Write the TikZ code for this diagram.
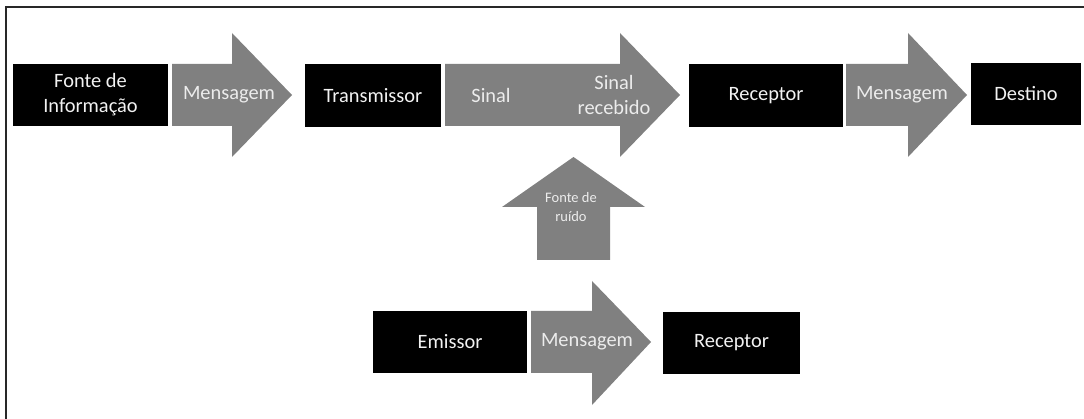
\documentclass[tikz,border=0pt]{standalone}
\usepackage{fontspec}
\setmainfont{Carlito}
\definecolor{arrowgray}{RGB}{128,128,128}
\definecolor{boxtext}{RGB}{242,242,242}
\definecolor{arrowtext}{RGB}{236,236,236}
\definecolor{framegray}{RGB}{40,40,40}
\tikzset{
  blackbox/.style={fill=black, text=boxtext, align=center, inner sep=0pt,
    font=\fontsize{20.4}{25}\selectfont},
  arrowbody/.style={fill=arrowgray},
  arrowlabel/.style={text=arrowtext, align=center, inner sep=0pt,
    font=\fontsize{20.4}{25}\selectfont},
  smalllabel/.style={text=arrowtext, align=center, inner sep=0pt,
    font=\fontsize{14.5}{19}\selectfont},
}
\begin{document}
\begin{tikzpicture}[x=1pt,y=-1pt]
\useasboundingbox (0,0) rectangle (1084,419);
% outer frame (left and top edges)
\draw[line width=1.3pt, framegray] (6,419) -- (6,7) -- (1084,7);

% --- upper chain: source to destination ---
\node[blackbox, minimum width=155pt, minimum height=62pt] (fonte) at (90.5,95) {Fonte de\\Informação};
\fill[arrowbody] (172,64) -- (232,64) -- (232,33) -- (292,95) -- (232,157) -- (232,126) -- (172,126) -- cycle;
\node[arrowlabel] (msg1) at (229,95) {Mensagem};

\node[blackbox, minimum width=136pt, minimum height=63pt] (trans) at (373,95.5) {Transmissor};
\fill[arrowbody] (445,64) -- (620,64) -- (620,33) -- (680,95) -- (620,157) -- (620,126) -- (445,126) -- cycle;
\node[arrowlabel] (sinal) at (491,95) {Sinal};
\node[arrowlabel] (sinalrec) at (614,95) {Sinal\\recebido};

\node[blackbox, minimum width=154pt, minimum height=63pt] (recep) at (766,95.5) {Receptor};
\fill[arrowbody] (846,64) -- (908,64) -- (908,33) -- (967,95) -- (908,157) -- (908,126) -- (846,126) -- cycle;
\node[arrowlabel] (msg2) at (902,95) {Mensagem};

\node[blackbox, minimum width=110pt, minimum height=62pt] (destino) at (1026,94) {Destino};

% --- noise source pushing up into the channel ---
\fill[arrowbody] (537,260) -- (537,207) -- (502,207) -- (573.5,157) -- (645,207) -- (610,207) -- (610,260) -- cycle;
\node[smalllabel] (ruido) at (571,207) {Fonte de\\ruído};

% --- lower chain: simplified model ---
\node[blackbox, minimum width=154pt, minimum height=62pt] (emissor) at (450,342) {Emissor};
\fill[arrowbody] (531,311) -- (592,311) -- (592,281) -- (651,342) -- (592,405) -- (592,373) -- (531,373) -- cycle;
\node[arrowlabel] (msg3) at (587,342) {Mensagem};
\node[blackbox, minimum width=137pt, minimum height=62pt] (recep2) at (731.5,343) {Receptor};
\end{tikzpicture}
\end{document}
